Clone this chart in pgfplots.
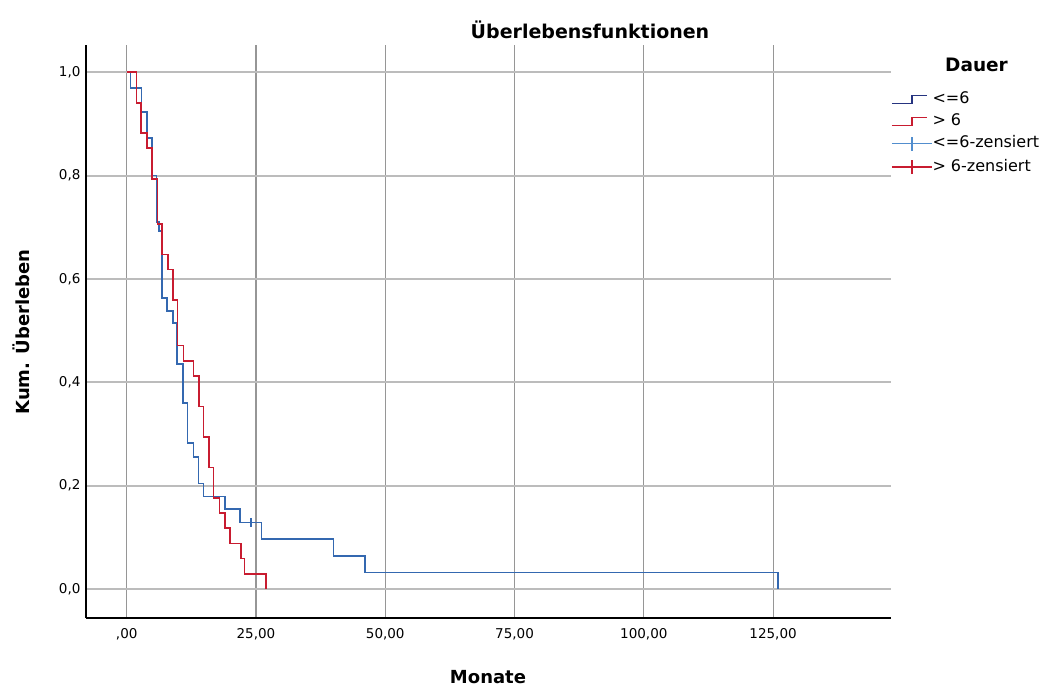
\documentclass[border=0pt]{standalone}
\usepackage{pgfplots}
\pgfplotsset{compat=1.18}
\usepackage{fontspec}
\setmainfont{DejaVu Sans}

\definecolor{kmblue}{RGB}{52,104,176}
\definecolor{kmnavy}{RGB}{38,52,128}
\definecolor{kmlight}{RGB}{82,142,206}
\definecolor{kmred}{RGB}{200,28,48}
\definecolor{gridh}{RGB}{188,188,188}
\definecolor{gridv}{RGB}{150,150,150}

% Kaplan-Meier estimates, Dauer <= 6 (31 patients, one censored)
\pgfplotstableread{
x       s
0       1.000
0.77    0.970
2.90    0.923
3.87    0.873
4.84    0.800
5.80    0.710
6.20    0.693
6.77    0.563
7.85    0.538
9.00    0.515
9.67    0.436
10.83   0.360
11.72   0.283
12.88   0.256
13.85   0.204
14.82   0.179
19.00   0.155
21.90   0.129
26.10   0.097
40.00   0.064
46.10   0.032
125.90  0.000
}\shortgroup

% Kaplan-Meier estimates, Dauer > 6 (34 patients)
\pgfplotstableread{
x       s
0       1.000
1.93    0.941
2.77    0.882
3.87    0.853
4.84    0.794
5.92    0.706
6.77    0.647
7.93    0.618
9.01    0.559
9.86    0.471
10.95   0.441
12.88   0.412
13.98   0.353
14.82   0.294
15.92   0.235
16.75   0.176
17.91   0.147
19.01   0.118
19.98   0.088
22.05   0.059
22.75   0.029
26.94   0.000
}\longgroup

\begin{document}
\begin{tikzpicture}[x=1pt,y=1pt]
\path[use as bounding box] (0,0) rectangle (1063,686);

\begin{axis}[
  at={(86pt,68pt)}, anchor=south west,
  scale only axis, width=805pt, height=573pt,
  xmin=-7.87, xmax=147.8, ymin=-0.0561, ymax=1.0528,
  axis x line*=bottom, axis y line*=left,
  axis line style={-, line width=1.5pt, black},
  xtick={0,25,50,75,100,125},
  xticklabels={{,00},{25,00},{50,00},{75,00},{100,00},{125,00}},
  ytick={0,0.2,0.4,0.6,0.8,1},
  yticklabels={{0,0},{0,2},{0,4},{0,6},{0,8},{1,0}},
  major tick length=0pt,
  tick label style={font=\fontsize{13.5}{16}\selectfont},
  xticklabel style={yshift=-7pt},
  yticklabel style={xshift=-2pt},
  xmajorgrids, ymajorgrids,
  x grid style={gridv, line width=1.1pt},
  y grid style={gridh, line width=2.2pt},
  legend style={at={(1.0,0.918)}, anchor=north west, draw=none, fill=none,
    font=\fontsize{16}{18}\selectfont, inner sep=0pt, row sep=8pt,
    nodes={inner sep=0pt, text height=11pt, text depth=3pt}},
  legend cell align=left,
  clip=false,
]
\addplot[const plot, kmblue, line width=1.6pt,
  legend image code/.code={\draw[kmnavy, line width=1.3pt] (0pt,-4pt) -- (20pt,-4pt) -- (20pt,4pt) -- (35pt,4pt);}]
  table[x=x, y=s] {\shortgroup};
\addlegendentry{<=6}
\addplot[const plot, kmred, line width=1.6pt,
  legend image code/.code={\draw[kmred, line width=1.3pt] (0pt,-4pt) -- (20pt,-4pt) -- (20pt,4pt) -- (35pt,4pt);}]
  table[x=x, y=s] {\longgroup};
\addlegendentry{> 6}
\addplot[only marks, mark=|, mark size=4.5pt, kmblue, mark options={line width=1.5pt},
  legend image code/.code={\draw[kmlight, line width=1.3pt] (0pt,0pt) -- (40pt,0pt); \draw[kmlight, line width=1.3pt] (20pt,-7pt) -- (20pt,7pt);}]
  coordinates {(24.0,0.129)};
\addlegendentry{<=6-zensiert}
\addlegendimage{legend image code/.code={\draw[kmred, line width=1.3pt] (0pt,0pt) -- (40pt,0pt); \draw[kmred, line width=1.3pt] (20pt,-7pt) -- (20pt,7pt);}}
\addlegendentry{> 6-zensiert}
\end{axis}

\node[font=\bfseries\fontsize{19}{22}\selectfont] at (590,656) {Überlebensfunktionen};
\node[font=\bfseries\fontsize{18.5}{22}\selectfont] at (976.5,621) {Dauer};
\node[font=\bfseries\fontsize{18}{22}\selectfont, inner sep=0pt, anchor=base] at (488,2.5) {Monate};
\node[font=\bfseries\fontsize{18}{22}\selectfont, inner sep=0pt, anchor=base, rotate=90] at (29,354) {Kum. Überleben};
\end{tikzpicture}
\end{document}
